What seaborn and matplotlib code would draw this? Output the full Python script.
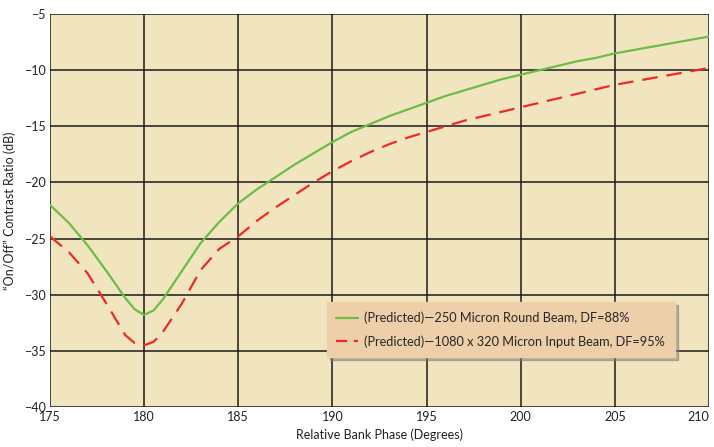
import numpy as np
import pandas as pd
import matplotlib
matplotlib.use('Agg')
import matplotlib.pyplot as plt
import seaborn as sns

# Relative bank phase (degrees)
phase = [175, 176, 177, 178, 179, 179.5, 180, 180.5, 181, 182, 183, 184,
         185, 186, 187, 188, 189, 190, 191, 192, 193, 194, 195, 196, 197,
         198, 199, 200, 201, 202, 203, 204, 205, 206, 207, 208, 209, 210]

# 250 micron round beam, DF=88%
round_beam = [-22.0, -23.6, -25.6, -27.9, -30.3, -31.3, -31.8, -31.4, -30.4, -27.9, -25.4, -23.5,
              -21.85, -20.6, -19.5, -18.4, -17.4, -16.4, -15.5, -14.8, -14.1, -13.5,
              -12.9, -12.3, -11.8, -11.3, -10.8, -10.4, -10.0, -9.6, -9.2, -8.9,
              -8.5, -8.2, -7.9, -7.6, -7.3, -7.0]

# 1080 x 320 micron input beam, DF=95%
input_beam = [-24.8, -26.2, -28.1, -30.8, -33.6, -34.3, -34.5, -34.2, -33.3, -30.8, -27.8, -25.9,
              -24.8, -23.4, -22.2, -21.1, -20.0, -19.0, -18.1, -17.3, -16.6, -16.0,
              -15.5, -15.0, -14.5, -14.1, -13.7, -13.3, -12.9, -12.5, -12.1, -11.7,
              -11.3, -11.0, -10.7, -10.4, -10.1, -9.8]

labels = ['(Predicted)\u2014250 Micron Round Beam, DF=88%',
          '(Predicted)\u20141080 x 320 Micron Input Beam, DF=95%']

df = pd.DataFrame({'phase': phase, 'round': round_beam, 'input': input_beam})

sns.set_style('white')
plt.rcParams['font.family'] = ['Lato', 'DejaVu Sans']

fig = plt.figure(figsize=(7.14, 4.47), dpi=100)
ax = fig.add_axes([0.070, 0.0895, 0.923, 0.879])
ax.set_facecolor('#F1E5BF')

sns.lineplot(data=df, x='phase', y='round', ax=ax, color='#6CBD45', lw=1.6, label=labels[0])
sns.lineplot(data=df, x='phase', y='input', ax=ax, color='#EE2A24', lw=1.6, label=labels[1])

ax.set_xlim(175, 210)
ax.set_ylim(-40, -5)
ax.set_xticks(range(175, 211, 5))
ax.set_yticks(range(-40, -4, 5))
ax.grid(True, color='#1a1a1a', lw=1.1)
for s in ax.spines.values():
    s.set_visible(False)
ax.tick_params(length=0, labelsize=9, colors='#222222', pad=3)
ax.get_xticklabels()[-1].set_horizontalalignment('right')
ax.set_xlabel('Relative Bank Phase (Degrees)', fontsize=9, color='#222222', labelpad=4)
ax.set_ylabel('\u201cOn/Off\u201d Contrast Ratio (dB)', fontsize=9, color='#222222', labelpad=6)

leg = ax.legend(loc='upper left', bbox_to_anchor=(0.42, 0.267), borderaxespad=0,
                frameon=True, fancybox=False, shadow={'color': '#777777', 'alpha': 0.5},
                fontsize=9.2, handlelength=1.7, handletextpad=0.5, borderpad=0.75,
                labelspacing=0.85)
leg.get_frame().set_facecolor('#EDD0A9')
leg.get_frame().set_edgecolor('#EDD0A9')
leg.get_frame().set_alpha(1)
ax.lines[1].set_dashes([7, 4])
leg.get_lines()[1].set_dashes([5, 3])

fig.savefig('out.png', dpi=100)
